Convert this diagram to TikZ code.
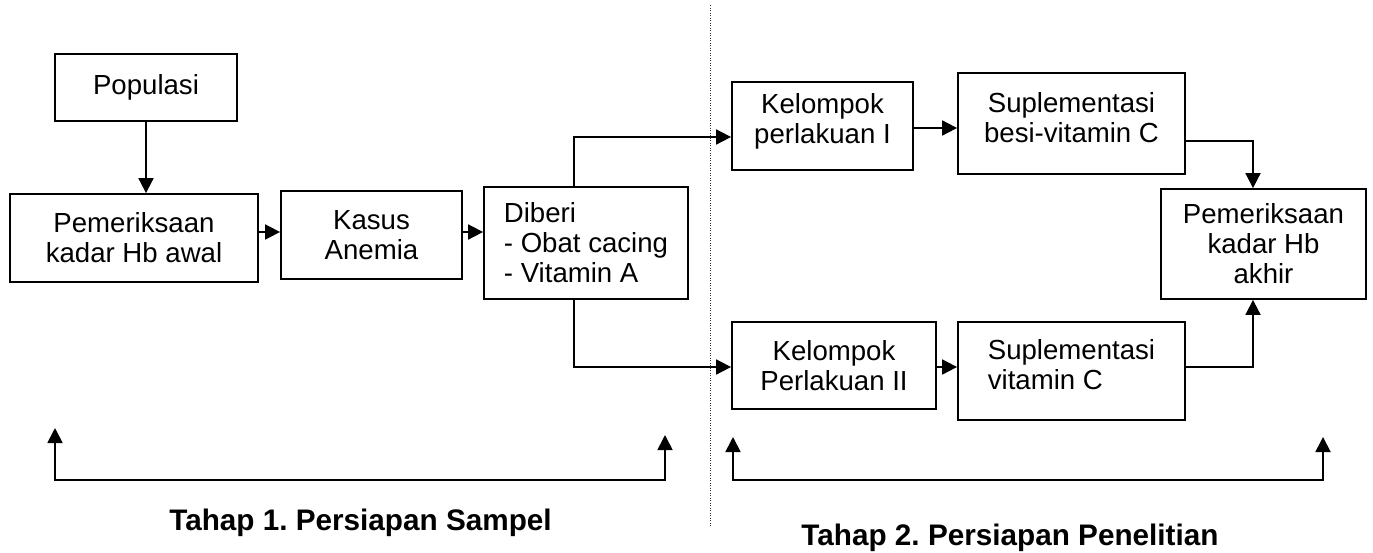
\documentclass[tikz,border=0pt]{standalone}
\usepackage{fontspec}
\setmainfont{Liberation Sans}
\usetikzlibrary{arrows.meta,calc}
\frenchspacing
\begin{document}
\begin{tikzpicture}[x=1pt,y=-1pt,
  box/.style={draw=black, line width=1.8pt, inner sep=0pt, align=center,
    font=\fontsize{27.6}{30}\selectfont},
  conn/.style={line width=1.8pt, -{Triangle[length=15pt,width=15pt]}},
  brk/.style={line width=1.8pt, {Triangle[length=15pt,width=15pt]}-{Triangle[length=15pt,width=15pt]}},
  ttl/.style={font=\fontsize{29.7}{32}\selectfont\bfseries, inner sep=0pt, anchor=base},
  sepline/.style={line width=1pt, dash pattern=on 1pt off 1.5pt, draw=black!80}]
\fill[white] (0,0) rectangle (1373,552);
\useasboundingbox (0,0) rectangle (1373,552);

% boxes
\node[box, minimum width=182pt, minimum height=67pt] (pop) at (146,87.5) {Populasi};
\node[box, minimum width=248pt, minimum height=88pt] (pem) at (134,238) {Pemeriksaan\\kadar Hb awal};
\node[box, minimum width=181pt, minimum height=88pt] (kas) at (371.5,235) {Kasus\\Anemia};
\node[box, minimum width=204pt, minimum height=112pt, align=left] (dib) at (586,243) {Diberi\\- Obat cacing\\- Vitamin A};
\node[box, minimum width=181pt, minimum height=88pt] (k1) at (822.5,126) {Kelompok\\perlakuan I\rule[-16pt]{0pt}{0pt}};
\node[box, minimum width=227pt, minimum height=101pt] (besi) at (1071.5,123.5) {Suplementasi\\besi-vitamin C\rule[-13pt]{0pt}{0pt}};
\node[box, minimum width=205pt, minimum height=110pt] (hb) at (1263.5,244) {Pemeriksaan\\kadar Hb\\akhir};
\node[box, minimum width=204pt, minimum height=87pt] (k2) at (834,365.5) {Kelompok\\Perlakuan II};
\node[box, minimum width=227pt, minimum height=98pt, align=left] (vitc) at (1071.5,371) {Suplementasi\\vitamin C\rule[-14pt]{0pt}{0pt}};

% separator
\coordinate (sepTop) at (710.5,5);
\coordinate (sepBot) at (710.5,526);
\draw[sepline] (sepTop) -- (sepBot);

% connectors
\draw[conn] (pop.south) -- (pop.south |- pem.north);
\draw[conn] ([yshift=6pt]pem.east) -- ([yshift=6pt]pem.east -| kas.west);
\draw[conn] ([yshift=3pt]kas.east) -- ([yshift=3pt]kas.east -| dib.west);
\draw[conn] ([xshift=-12pt]dib.north) |- ([yshift=-11pt]k1.west);
\draw[conn] ([xshift=-12pt]dib.south) |- ([yshift=-1.5pt]k2.west);
\draw[conn] ([yshift=-2pt]k1.east) -- ([yshift=-2pt]k1.east -| besi.west);
\draw[conn] ([yshift=-17.5pt]besi.east) -| ([xshift=-10.5pt]hb.north);
\draw[conn] ([yshift=-1.5pt]k2.east) -- ([yshift=-1.5pt]k2.east -| vitc.west);
\draw[conn] ([yshift=4pt]vitc.east) -| ([xshift=-10.5pt]hb.south);

% brackets
\coordinate (b1l) at (55,428);
\coordinate (b1r) at (665,435);
\coordinate (by) at (0,480);
\draw[brk] (b1l) -- (b1l |- by) -- (b1r |- by) -- (b1r);
\coordinate (b2l) at (733,437);
\coordinate (b2r) at (1323,437);
\draw[brk] (b2l) -- (b2l |- by) -- (b2r |- by) -- (b2r);

% titles
\node[ttl] (t1) at (360.5,530) {Tahap 1. Persiapan Sampel};
\node[ttl] (t2) at (1010,545) {Tahap 2. Persiapan Penelitian};
\end{tikzpicture}
\end{document}
